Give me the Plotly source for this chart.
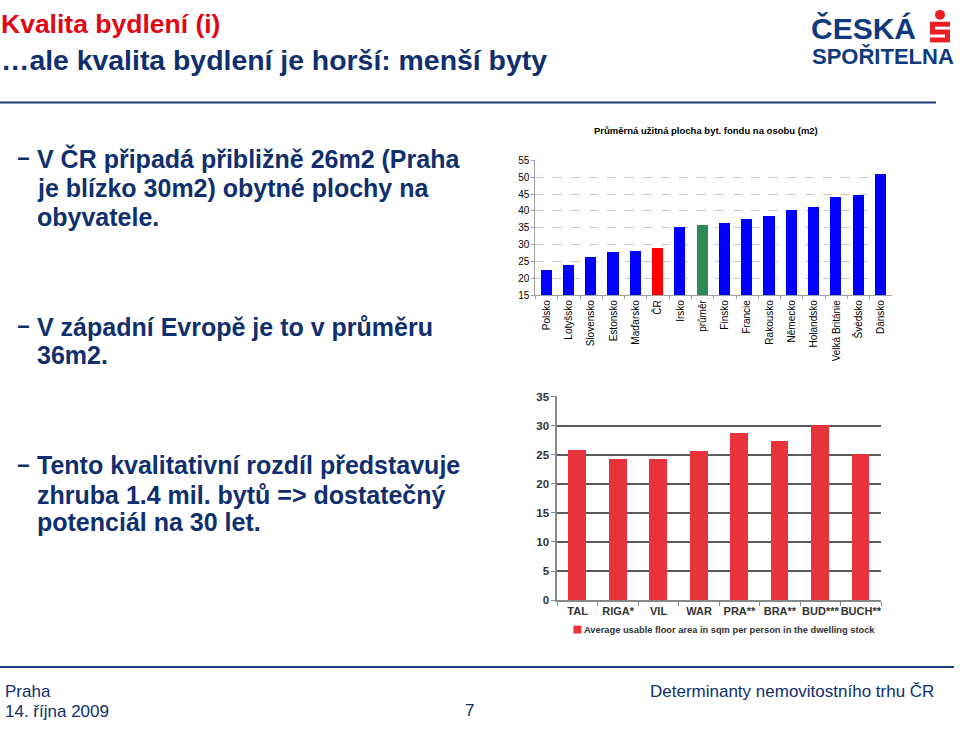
import plotly.graph_objects as go

# ---- data ----
countries = ["Polsko", "Lotyšsko", "Slovensko", "Estonsko", "Maďarsko", "ČR", "Irsko",
             "průměr", "Finsko", "Francie", "Rakousko", "Německo", "Holandsko",
             "Velká Británie", "Švédsko", "Dánsko"]
area_per_person = [22.3, 23.9, 26.2, 27.7, 28.1, 28.8, 35.0, 35.8, 36.4, 37.6, 38.4,
                   40.2, 41.1, 44.0, 44.6, 50.9]
cities = ["TAL", "RIGA*", "VIL", "WAR", "PRA**", "BRA**", "BUD***", "BUCH**"]
city_area = [25.8, 24.2, 24.2, 25.6, 28.7, 27.3, 30.0, 25.1]

W, H = 960, 732
def px(x): return x / W
def py(y): return 1 - y / H

BLUE_TXT = "#0f2f6e"
FONT = "Arial, Liberation Sans, sans-serif"

colors_top = []
for c in countries:
    if c == "ČR":
        colors_top.append("#ff0000")
    elif c == "průměr":
        colors_top.append("#2e8b57")
    else:
        colors_top.append("#0000ff")

fig = go.Figure()
fig.add_trace(go.Bar(x=countries, y=area_per_person, marker_color=colors_top,
                     marker_line_width=0, width=0.5, xaxis="x", yaxis="y",
                     showlegend=False, hoverinfo="x+y"))
fig.add_trace(go.Bar(x=cities, y=city_area, marker_color="#e8333a",
                     marker_line_width=0, width=0.44, xaxis="x2", yaxis="y2",
                     showlegend=False, hoverinfo="x+y"))

ann = []
def text(x, y, s, size, color=BLUE_TXT, bold=False, anchor="left", family=FONT, yanchor="middle"):
    ann.append(dict(xref="paper", yref="paper", x=px(x), y=py(y), text=(f"<b>{s}</b>" if bold else s),
                    showarrow=False, xanchor=anchor, yanchor=yanchor, borderpad=0,
                    font=dict(size=size, color=color, family=family)))

# Titles
text(0, 18, "Kvalita bydlení (i)", 26.5, color="#e30613", bold=True)
text(0, 55, "…ale kvalita bydlení je horší: menší byty", 28.4, color=BLUE_TXT, bold=True)

# Bullets
bul = [
    (155, "V ČR připadá přibližně 26m2 (Praha", True),
    (185, "je blízko 30m2) obytné plochy na", False),
    (215, "obyvatele.", False),
    (326, "V západní Evropě je to v průměru", True),
    (355, "36m2.", False),
    (467, "Tento kvalitativní rozdíl představuje", True),
    (497, "zhruba 1.4 mil. bytů => dostatečný", False),
    (525, "potenciál na 30 let.", False),
]
for y, s, dash in bul:
    if dash:
        text(16, y, "−", 22, bold=True)
    text(36, y, s, 25, bold=True)

# Top chart title
text(707, 127, "Průměrná užitná plocha byt. fondu na osobu (m2)", 9.5, color="#000000", bold=True, anchor="center")

# Bottom chart legend
text(584, 634, "Average usable floor area in sqm per person in the dwelling stock", 9.3,
     color="#333333", bold=True)

# Footer
text(4, 697, "Praha", 17)
text(4, 717, "14. října 2009", 17)
text(470, 716, "7", 17, anchor="center")
text(936, 697, "Determinanty nemovitostního trhu ČR", 17, anchor="right")

# Logo
text(811, 23, "ČESKÁ", 30, color="#0f3a7d", bold=True)
text(812, 51, "SPOŘITELNA", 22, color="#0f3a7d", bold=True)

shapes = [
    dict(type="line", xref="paper", yref="paper", x0=0, x1=px(937), y0=py(98), y1=py(98),
         line=dict(color="#1f3c7a", width=2)),
    dict(type="line", xref="paper", yref="paper", x0=0, x1=px(955), y0=py(672), y1=py(672),
         line=dict(color="#1f3c7a", width=2)),
    # legend square
    dict(type="rect", xref="paper", yref="paper", x0=px(574), x1=px(582), y0=py(638), y1=py(630),
         fillcolor="#e8333a", line_width=0),
    # logo symbol
    dict(type="circle", xref="paper", yref="paper", x0=px(936), x1=px(946), y0=py(14), y1=py(4),
         fillcolor="#ee1c25", line_width=0),
    dict(type="rect", xref="paper", yref="paper", x0=px(931), x1=px(951), y0=py(37), y1=py(16),
         fillcolor="#ee1c25", line_width=0),
    dict(type="rect", xref="paper", yref="paper", x0=px(936), x1=px(951), y0=py(24), y1=py(21),
         fillcolor="white", line_width=0),
    dict(type="rect", xref="paper", yref="paper", x0=px(931), x1=px(946), y0=py(32), y1=py(29),
         fillcolor="white", line_width=0),
]

fig.update_layout(
    width=W, height=H, margin=dict(l=0, r=0, t=0, b=0),
    paper_bgcolor="white", plot_bgcolor="white",
    font=dict(family=FONT),
    annotations=ann, shapes=shapes, bargap=0,
    xaxis=dict(domain=[px(536), px(893)], anchor="y", type="category",
               tickangle=-90, tickfont=dict(size=10, color="#000000", family=FONT),
               showline=True, linecolor="#a0a0a0", linewidth=1,
               ticks="outside", ticklen=3, tickcolor="#a0a0a0", tickson="boundaries",
               showgrid=False, fixedrange=True),
    yaxis=dict(domain=[py(294), py(157)], anchor="x", range=[15, 55], dtick=5,
               tickfont=dict(size=10, color="#000000", family=FONT),
               showline=True, linecolor="#a0a0a0", linewidth=1,
               ticks="outside", ticklen=3, tickcolor="#a0a0a0",
               showgrid=True, gridcolor="#c8c8c8", griddash="dash", gridwidth=1,
               zeroline=False, fixedrange=True),
    xaxis2=dict(domain=[px(558), px(882)], anchor="y2", type="category",
                tickangle=0, tickfont=dict(size=11, color="#333333", family=FONT),
                tickvals=cities, ticktext=[f"<b>{c}</b>" for c in cities],
                showline=True, linecolor="#888888", linewidth=2,
                ticks="outside", ticklen=4, tickcolor="#888888", tickson="boundaries",
                showgrid=False, fixedrange=True),
    yaxis2=dict(domain=[py(604), py(397)], anchor="x2", range=[0, 35], dtick=5,
                tickfont=dict(size=11.5, color="#333333", family=FONT),
                tickprefix="<b>", ticksuffix="</b>",
                showline=True, linecolor="#888888", linewidth=2,
                ticks="outside", ticklen=4, tickcolor="#888888",
                showgrid=True, gridcolor="#5a5a5a", gridwidth=1.5,
                zeroline=False, fixedrange=True),
)

fig.write_html("out.html",
               post_script="document.body.style.margin='0';document.body.style.overflow='hidden';")
